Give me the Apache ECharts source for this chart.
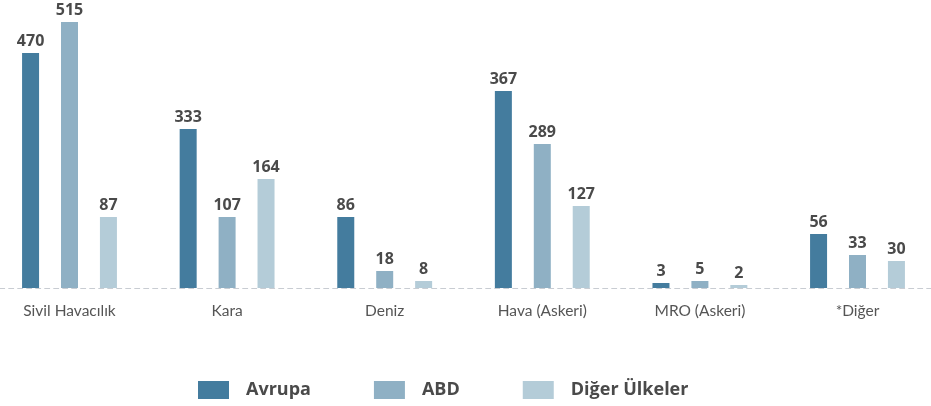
<!DOCTYPE html>
<html>
<head>
<meta charset="utf-8">
<style>
  html, body { margin: 0; padding: 0; background: #ffffff; }
  #chart { width: 931px; height: 406px; }
</style>
<script src="https://cdn.jsdelivr.net/npm/echarts@6/dist/echarts.min.js"></script>
</head>
<body>
<div id="chart"></div>
<script>
// Categories
const categories = ['Sivil Havacılık', 'Kara', 'Deniz', 'Hava (Askeri)', 'MRO (Askeri)', '*Diğer'];
const seriesNames = ['Avrupa', 'ABD', 'Diğer Ülkeler'];

// Printed values (labels on top of bars)
const avrupaValues = [470, 333, 86, 367, 3, 56];
const abdValues = [515, 107, 18, 289, 5, 33];
const digerValues = [87, 164, 8, 127, 2, 30];

// Bar lengths as drawn in the picture (the reference is not drawn to a linear scale),
// read off the image in the axis's units
const avrupaBars = [470, 318, 142, 394, 10, 108];
const abdBars = [532, 142, 34, 288, 14, 66];
const digerBars = [142, 218, 14, 164, 6, 54];

const colors = ['#447C9E', '#8FB0C4', '#B4CCD8'];
const font = 'Lato, "Noto Sans", sans-serif';
const boldFont = '"Open Sans", Lato, sans-serif';

const chart = echarts.init(document.getElementById('chart'));

function makeSeries(name, bars, values, color) {
  return {
    name: name,
    type: 'bar',
    data: bars,
    barWidth: 17,
    barGap: '129%',
    itemStyle: { color: color },
    label: {
      show: true,
      position: 'top',
      distance: 4,
      fontFamily: boldFont,
      fontWeight: 'bold',
      fontSize: 16,
      color: '#4a4a4a',
      formatter: function (p) { return values[p.dataIndex]; }
    },
    silent: true
  };
}

chart.setOption({
  animation: false,
  color: colors,
  grid: { left: -9.3, right: -5.3, top: 18, bottom: 118, containLabel: false, outerBoundsMode: 'none' },
  legend: {
    left: 198,
    top: 381,
    padding: 0,
    itemWidth: 31,
    itemHeight: 18,
    itemGap: 63,
    icon: 'rect',
    textStyle: {
      fontFamily: boldFont,
      fontWeight: 'bold',
      fontSize: 18,
      color: '#4a4a4a',
      padding: [0, 0, 0, 12]
    },
    data: seriesNames
  },
  xAxis: {
    type: 'category',
    data: categories,
    axisLine: { show: true, lineStyle: { color: '#c8ccd2', type: [5, 4], width: 1 } },
    axisTick: { show: false },
    axisLabel: {
      margin: 15,
      fontFamily: font,
      fontSize: 15.5,
      color: '#555555',
      interval: 0
    }
  },
  yAxis: {
    type: 'value',
    min: 0,
    max: 540,
    show: false,
    splitLine: { show: false }
  },
  series: [
    makeSeries(seriesNames[0], avrupaBars, avrupaValues, colors[0]),
    makeSeries(seriesNames[1], abdBars, abdValues, colors[1]),
    makeSeries(seriesNames[2], digerBars, digerValues, colors[2])
  ]
});
</script>
</body>
</html>
